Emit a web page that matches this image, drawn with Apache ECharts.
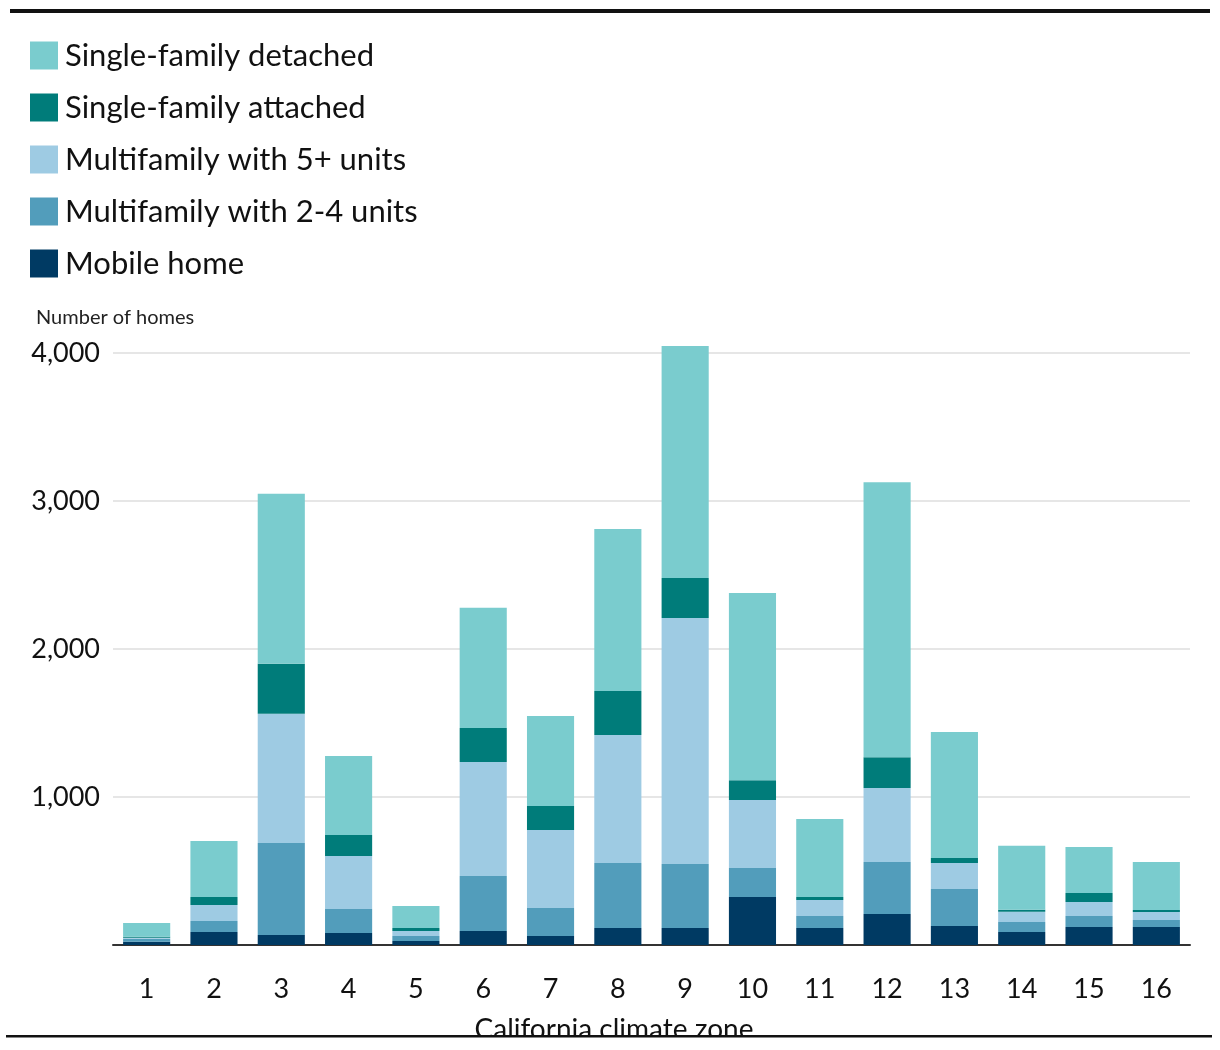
<!DOCTYPE html>
<html>
<head>
<meta charset="utf-8">
<script src="https://cdn.jsdelivr.net/npm/echarts@6/dist/echarts.min.js"></script>
<style>
html,body{margin:0;padding:0;background:#fff;}
#chart{width:1220px;height:1050px;}
</style>
</head>
<body>
<div id="chart"></div>
<script>
var zones = ['1','2','3','4','5','6','7','8','9','10','11','12','13','14','15','16'];
var mobileHome = [22, 88, 68, 81, 27, 95, 61, 115, 115, 324, 115, 209, 128, 88, 122, 122];
var multi24 = [20, 74, 622, 162, 34, 372, 189, 439, 432, 196, 81, 351, 250, 68, 74, 47];
var multi5 = [7, 108, 872, 358, 34, 770, 527, 865, 1662, 459, 108, 500, 176, 68, 95, 54];
var sfAttached = [7, 54, 338, 142, 20, 230, 162, 297, 270, 135, 20, 209, 34, 14, 61, 14];
var sfDetached = [92, 378, 1149, 534, 149, 811, 608, 1095, 1568, 1264, 527, 1858, 851, 432, 311, 324];
var yTicks = [0, 1000, 2000, 3000, 4000];

var FONT = '"Source Sans Pro", Lato, "Noto Sans", sans-serif';
var chart = echarts.init(document.getElementById('chart'));

function bar(name, data, color) {
  return {
    name: name, type: 'bar', stack: 'total', data: data, clip: false,
    barWidth: '70%', itemStyle: { color: color }, emphasis: { disabled: true }
  };
}

chart.setOption({
  animation: false,
  textStyle: { fontFamily: FONT },
  title: {
    text: 'Number of homes', left: 31, top: 303,
    textStyle: { fontFamily: FONT, fontSize: 20, fontWeight: 'normal', color: '#222' }
  },
  legend: {
    orient: 'vertical', left: 30, top: 40, padding: 0,
    itemWidth: 28, itemHeight: 28, itemGap: 21,
    icon: 'rect', selectedMode: false,
    data: ['Single-family detached', 'Single-family attached', 'Multifamily with 5+ units', 'Multifamily with 2-4 units', 'Mobile home'],
    textStyle: { fontFamily: FONT, fontSize: 31, color: '#111', padding: [0, 0, 0, 2] }
  },
  grid: { left: 113, right: 30, top: 353, bottom: 105, containLabel: false },
  xAxis: {
    type: 'category', data: zones,
    axisLine: { lineStyle: { color: '#333', width: 2 } },
    axisTick: { alignWithLabel: true, length: 10, lineStyle: { color: '#333', width: 1.5 } },
    axisLabel: { fontFamily: FONT, fontSize: 27, color: '#111', margin: 31 }
  },
  yAxis: {
    type: 'value', min: yTicks[0], max: yTicks[yTicks.length - 1], interval: 1000,
    axisLine: { show: false }, axisTick: { show: false },
    splitLine: { lineStyle: { color: '#e6e6e6', width: 2 } },
    axisLabel: {
      fontFamily: FONT, fontSize: 27, color: '#111', margin: 13, showMinLabel: false,
      verticalAlign: 'middle', lineHeight: 27, padding: [6, 0, 0, 0],
      formatter: function (v) { return v.toLocaleString('en-US'); }
    }
  },
  graphic: [
    { type: 'rect', shape: { x: 10, y: 9, width: 1200, height: 4 }, style: { fill: '#111' }, z: 100 },
    { type: 'text', x: 614, y: 1016, style: { text: 'California climate zone', fontFamily: FONT, fontSize: 28, fill: '#111', textAlign: 'center', textVerticalAlign: 'top' }, z: 90 },
    { type: 'rect', shape: { x: 0, y: 1037, width: 1220, height: 13 }, style: { fill: '#fff' }, z: 95 },
    { type: 'rect', shape: { x: 6, y: 1035, width: 1206, height: 2.5 }, style: { fill: '#111' }, z: 100 }
  ],
  series: [
    bar('Mobile home', mobileHome, '#003a63'),
    bar('Multifamily with 2-4 units', multi24, '#529dbb'),
    bar('Multifamily with 5+ units', multi5, '#9ecbe3'),
    bar('Single-family attached', sfAttached, '#007c7a'),
    bar('Single-family detached', sfDetached, '#7accce')
  ]
});
</script>
</body>
</html>
